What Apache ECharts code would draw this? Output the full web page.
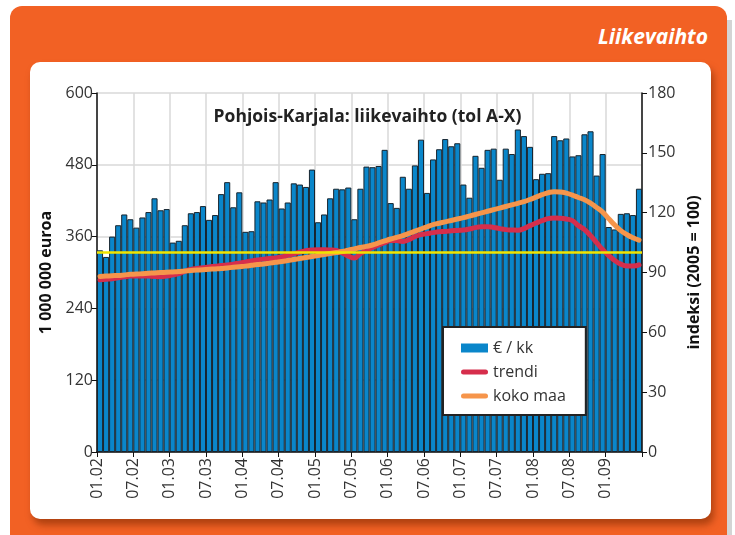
<!DOCTYPE html>
<html>
<head>
<meta charset="utf-8">
<script src="https://cdn.jsdelivr.net/npm/echarts@6/dist/echarts.min.js"></script>
<style>
    html, body { margin: 0; padding: 0; width: 735px; height: 535px; overflow: hidden; background: #fff; }
    .frame { position: absolute; left: 10px; top: 6px; width: 717px; height: 545px; background: #f26124; border-radius: 12px; }
    .edge { position: absolute; left: 727px; top: 20px; width: 5px; height: 520px; background: #d4d4d4; }
    .panel { position: absolute; left: 30px; top: 62px; width: 681px; height: 457px; background: #fff; border-radius: 10px; box-shadow: 3px 6px 7px rgba(120, 40, 0, 0.55); }
    .head { position: absolute; right: 27px; top: 22px; color: #fff; font: italic bold 21px "Open Sans", sans-serif; }
    #chart { position: absolute; left: 0; top: 0; width: 735px; height: 535px; }
</style>
</head>
<body>
<div class="edge"></div>
<div class="frame"></div>
<div class="panel"></div>
<div class="head">Liikevaihto</div>
<div id="chart"></div>
<script>
// kuukausittain 01.02 - 06.09
const xTickLabels = ['01.02', '07.02', '01.03', '07.03', '01.04', '07.04', '01.05', '07.05',
    '01.06', '07.06', '01.07', '07.07', '01.08', '07.08', '01.09'];

// € / kk, milj. euroa
const euroPerMonth = [
    337, 326, 360, 379, 397, 389, 375, 392, 401, 424, 404, 406,
    350, 353, 379, 399, 401, 411, 388, 396, 431, 451, 409, 434,
    368, 369, 419, 417, 422, 451, 407, 417, 449, 447, 443, 472,
    384, 397, 424, 440, 439, 442, 389, 440, 477, 476, 478, 505,
    416, 408, 460, 440, 479, 522, 433, 489, 506, 523, 511, 516,
    447, 425, 495, 475, 505, 507, 455, 507, 498, 539, 528, 510,
    456, 465, 466, 528, 521, 524, 494, 496, 531, 536, 462, 498,
    376, 372, 398, 399, 396, 440
];

// indeksi (2005 = 100)
const trendi = [
    86.3, 86.6, 86.9, 87.3, 87.8, 88.2, 88.3, 88.3, 88.2, 88.0,
    87.9, 88.2, 88.8, 89.5, 90.6, 91.5, 92.0, 92.4, 92.8, 93.1,
    93.5, 93.8, 94.2, 94.7, 95.2, 95.8, 96.3, 96.7, 97.0, 97.3,
    97.8, 98.6, 99.4, 100.2, 100.9, 101.3, 101.4, 101.4, 101.3, 101.0,
    99.8, 98.2, 97.3, 99.5, 101.0, 102.5, 103.8, 105.0, 106.0, 106.0,
    105.6, 106.5, 108.0, 109.0, 109.5, 110.0, 110.4, 110.6, 110.9, 111.1,
    111.3, 111.8, 112.5, 113.0, 113.0, 112.6, 112.0, 111.5, 111.3, 111.2,
    112.0, 113.5, 114.8, 116.0, 117.0, 117.3, 117.2, 116.8, 116.0, 113.5,
    111.5, 108.5, 105.0, 101.5, 98.5, 96.0, 94.2, 93.3, 93.2, 93.8
];

const kokoMaa = [
    88.0, 88.2, 88.4, 88.5, 88.8, 89.1, 89.2, 89.4, 89.6, 89.8,
    90.0, 90.1, 90.3, 90.5, 90.8, 91.0, 91.2, 91.4, 91.6, 91.8,
    92.0, 92.3, 92.6, 92.9, 93.2, 93.6, 94.0, 94.3, 94.7, 95.1,
    95.5, 96.0, 96.5, 97.0, 97.5, 98.0, 98.5, 99.0, 99.5, 100.0,
    100.5, 101.2, 101.8, 102.5, 103.1, 103.8, 104.8, 105.8, 106.8, 107.6,
    108.5, 109.6, 110.7, 111.8, 112.9, 114.0, 114.7, 115.4, 116.1, 116.8,
    117.5, 118.3, 119.1, 119.9, 120.7, 121.5, 122.3, 123.1, 123.9, 124.7,
    125.5, 126.6, 127.8, 129.0, 130.0, 130.5, 130.4, 129.8, 128.8, 127.6,
    126.5, 124.8, 122.6, 120.3, 117.0, 113.8, 111.0, 109.0, 107.4, 106.2
];

const baseIndex = 100;

const font = '"Open Sans", sans-serif';
const lineIcon = 'path://M2.5,0 H24.5 A2.5,2.5 0 0 1 24.5,5 H2.5 A2.5,2.5 0 0 1 2.5,0 Z';

let chart = echarts.init(document.getElementById('chart'));

let option = {
    animation: false,
    textStyle: { fontFamily: font },
    title: {
        text: 'Pohjois-Karjala: liikevaihto (tol A-X)',
        left: 'center',
        top: 103,
        textStyle: { fontSize: 17.5, fontWeight: 'bold', color: '#222', fontFamily: font }
    },
    grid: { left: 97, right: 93, top: 93, bottom: 83 },
    legend: {
        orient: 'vertical',
        left: 443,
        top: 327,
        itemWidth: 27,
        itemHeight: 9,
        itemGap: 8,
        padding: [13, 20, 11, 18],
        backgroundColor: '#fff',
        borderColor: '#222',
        borderWidth: 2,
        textStyle: { fontSize: 16, color: '#333', fontFamily: font },
        data: [
            { name: '€ / kk', icon: 'rect', itemStyle: { borderWidth: 0 } },
            { name: 'trendi', icon: lineIcon },
            { name: 'koko maa', icon: lineIcon }
        ]
    },
    xAxis: {
        type: 'value',
        min: 0,
        max: 90,
        interval: 6,
        axisLine: { show: true, lineStyle: { color: '#111', width: 1.5 } },
        axisTick: { show: true, length: 5, lineStyle: { color: '#111' } },
        axisLabel: {
            rotate: 90,
            fontSize: 16,
            color: '#333',
            margin: 6,
            formatter: v => xTickLabels[v / 6] || ''
        },
        splitLine: { show: true, lineStyle: { color: '#d9d9d9', width: 1.5 } }
    },
    yAxis: [
        {
            type: 'value',
            min: 0,
            max: 600,
            interval: 120,
            name: '1 000 000 euroa',
            nameLocation: 'middle',
            nameGap: 36,
            nameTextStyle: { fontSize: 16, fontWeight: 'bold', color: '#111', fontFamily: font },
            axisLine: { show: true, lineStyle: { color: '#111', width: 1.5 } },
            axisTick: { show: true, length: 5, lineStyle: { color: '#111' } },
            axisLabel: { fontSize: 16, color: '#333', margin: 4 },
            splitLine: { lineStyle: { color: '#d9d9d9', width: 1.5 } }
        },
        {
            type: 'value',
            min: 0,
            max: 180,
            interval: 30,
            name: 'indeksi (2005 = 100)',
            nameLocation: 'middle',
            nameGap: 42,
            nameTextStyle: { fontSize: 16, fontWeight: 'bold', color: '#111', fontFamily: font },
            axisLine: { show: true, lineStyle: { color: '#111', width: 1.5 } },
            axisTick: { show: true, length: 5, lineStyle: { color: '#111' } },
            axisLabel: { fontSize: 16, color: '#333', margin: 6 },
            splitLine: { show: false }
        }
    ],
    series: [
        {
            name: '€ / kk',
            type: 'bar',
            barWidth: 6.1,
            itemStyle: { color: '#0a86ca', borderColor: '#17242e', borderWidth: 1 },
            data: euroPerMonth.map((v, i) => [i + 0.5, v]),
            markLine: {
                silent: true,
                symbol: 'none',
                label: { show: false },
                lineStyle: { color: '#f0e400', width: 2.5, type: 'solid' },
                // 100 oikealla asteikolla
                data: [{ yAxis: baseIndex * 600 / 180 }]
            }
        },
        {
            name: 'trendi',
            type: 'line',
            yAxisIndex: 1,
            smooth: true,
            symbol: 'none',
            itemStyle: { color: '#d62e4c' },
            lineStyle: { color: '#d62e4c', width: 5, cap: 'round' },
            data: trendi.map((v, i) => [i + 0.5, v])
        },
        {
            name: 'koko maa',
            type: 'line',
            yAxisIndex: 1,
            smooth: true,
            symbol: 'none',
            itemStyle: { color: '#f6954b' },
            lineStyle: { color: '#f6954b', width: 5, cap: 'round' },
            data: kokoMaa.map((v, i) => [i + 0.5, v])
        }
    ]
};

chart.setOption(option);
</script>
</body>
</html>
